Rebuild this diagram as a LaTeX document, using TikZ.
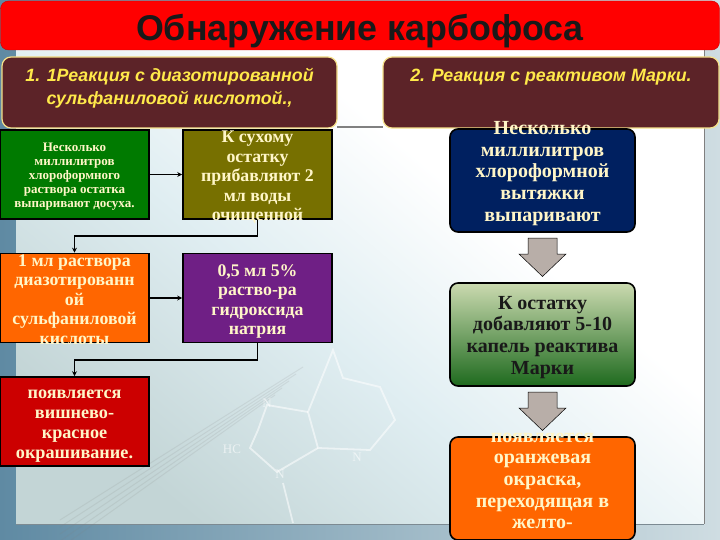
\documentclass[tikz,border=0pt]{standalone}
\usepackage{fontspec}
\setmainfont{Liberation Serif}
\newfontfamily\headfont{Liberation Sans}
\usetikzlibrary{arrows.meta}
\definecolor{framecolleft}{HTML}{5F8AA3}
\definecolor{framecolright}{HTML}{CFDDE2}
\definecolor{panelcol}{HTML}{C3D5D6}
\definecolor{panelmidcol}{HTML}{E0EEF2}
\definecolor{titlecol}{HTML}{FF0000}
\definecolor{headcol}{HTML}{5C2328}
\definecolor{headedgecol}{HTML}{F5E08A}
\definecolor{headtextcol}{HTML}{FFE94A}
\definecolor{creamcol}{HTML}{FFF6C8}
\definecolor{boxgreencol}{HTML}{007A00}
\definecolor{boxolivecol}{HTML}{777000}
\definecolor{boxorangecol}{HTML}{FF6600}
\definecolor{boxpurplecol}{HTML}{6F1F85}
\definecolor{boxredcol}{HTML}{CC0000}
\definecolor{boxnavycol}{HTML}{002060}
\definecolor{gradtopcol}{HTML}{CBDAB0}
\definecolor{gradbotcol}{HTML}{1E6A1E}
\definecolor{blockcol}{HTML}{B8AEA8}
\pgfdeclareverticalshading{panelshade}{100bp}{color(0bp)=(panelcol); color(25bp)=(panelcol); color(45bp)=(panelmidcol); color(62bp)=(white); color(100bp)=(white)}
\newcommand{\carbtext}[3]{\raisebox{#1}[0pt][0pt]{\parbox[c][0pt][c]{#2}{\centering #3}}}
\tikzset{
        titlebox/.style={draw=red!80!black, fill=titlecol, rounded corners=8pt, minimum width=719pt, minimum height=49pt, inner sep=0pt},
        headbox/.style={draw=headedgecol, line width=1.2pt, fill=headcol, rounded corners=9pt, minimum height=71pt, inner sep=0pt, text=headtextcol, font=\headfont\fontsize{17.8}{23}\selectfont\bfseries\itshape},
        squarebox/.style={draw=black, line width=1.6pt, minimum width=149pt, minimum height=89pt, inner sep=0pt, text=creamcol, font=\fontsize{17.8}{19.5}\selectfont\bfseries},
        roundbox/.style={draw=black, line width=1.6pt, rounded corners=8pt, minimum width=185pt, minimum height=103pt, inner sep=0pt, text=creamcol, font=\fontsize{20}{21.7}\selectfont\bfseries},
        blockdown/.style={draw=black, line width=0.5pt, fill=blockcol},
        linkarrow/.style={draw=black, line width=1.4pt, -{Stealth[length=5pt,width=5pt]}},
        waterline/.style={draw=white, opacity=0.55, line width=1.8pt},
        waterstripe/.style={draw=gray, opacity=0.14, line width=1pt},
        waterlabel/.style={text=white, opacity=0.6, font=\fontsize{13}{13}\selectfont},
}
\begin{document}
\begin{tikzpicture}[x=1pt,y=-1pt]
        \useasboundingbox (0,0) rectangle (720,540);
        \shade[left color=framecolleft, right color=framecolright] (0,0) rectangle (720,540);
        \shade[shading=panelshade, shading angle=-40] (16,50) rectangle (704,524);
        \draw[black!45!cyan!30!gray, line width=1.5pt] (16,524.5) -- (704,524.5);
        \draw[gray, line width=1.5pt] (337,127) -- (383,127);
        \draw[black!50, line width=0.7pt] (704,50) -- (704,524);
        \foreach \stripey in {0,7,14,21,28}
                \draw[waterstripe] (303-\stripey,367+\stripey) -- (60,520+\stripey);
        \draw[waterline] (333,350) -- (343,378) -- (380,387) -- (395,420) -- (370,450) -- (318,448) -- (308,412) -- cycle;
        \draw[waterline] (308,412) -- (267,405) -- (258,430) -- (250,448) -- (277,472) -- (318,448);
        \draw[waterline] (283,483) -- (293,523);
        \node[waterlabel] (waterna) at (267,403) {N};
        \node[waterlabel] (waternb) at (280,474) {N};
        \node[waterlabel] (waternc) at (357,457) {N};
        \node[waterlabel] (waterhc) at (232,449) {HC};
        \node[titlebox] (titlebar) at (360,25.5) {};
        \node[font=\headfont\fontsize{35.8}{38}\selectfont\bfseries, text=black!90] (titletext) at (360,31) {Обнаружение карбофоса};
        \node[headbox, minimum width=335pt] (heada) at (169.5,92.5) {\carbtext{-0.5pt}{335pt}{1. 1Реакция с диазотированной\\сульфаниловой кислотой.,}};
        \node[headbox, minimum width=336pt] (headb) at (551,92.5) {\carbtext{11pt}{336pt}{2. Реакция с реактивом Марки.}};
        \node[squarebox, fill=boxgreencol, font=\fontsize{13}{14}\selectfont\bfseries] (boxgreen) at (74.5,174.5) {\carbtext{-5.5pt}{149pt}{Несколько\\миллилитров\\хлороформного\\раствора остатка\\выпаривают досуха.}};
        \node[squarebox, fill=boxolivecol] (boxolive) at (257.5,174.5) {\carbtext{-7.5pt}{149pt}{К сухому\\остатку\\прибавляют 2\\мл воды\\очищенной}};
        \node[squarebox, fill=boxorangecol] (boxorange) at (74.5,298) {\carbtext{-6pt}{149pt}{1 мл раствора\\диазотированн\\ой\\сульфаниловой\\кислоты}};
        \node[squarebox, fill=boxpurplecol] (boxpurple) at (257.5,298) {\carbtext{-8pt}{149pt}{0,5 мл 5\%\\раство-ра\\гидроксида\\натрия}};
        \node[squarebox, fill=boxredcol, font=\fontsize{18.2}{19.7}\selectfont\bfseries] (boxred) at (74.5,421.5) {\carbtext{-9pt}{149pt}{появляется\\вишнево-\\красное\\окрашивание.}};
        \node[roundbox, fill=boxnavycol] (boxnavy) at (542.5,180.5) {\carbtext{2pt}{185pt}{Несколько\\миллилитров\\хлороформной\\вытяжки\\выпаривают}};
        \node[roundbox, top color=gradtopcol, bottom color=gradbotcol, text=black!90] (boxgrad) at (542.5,334.5) {\carbtext{-8pt}{185pt}{К остатку\\добавляют 5-10\\капель реактива\\Марки}};
        \node[roundbox, fill=boxorangecol] (boxlast) at (542.5,488.5) {\carbtext{2.5pt}{185pt}{появляется\\оранжевая\\окраска,\\переходящая в\\желто-}};
        \foreach \blocky in {238,392}
                \draw[blockdown, shift={(542.5,\blocky)}] (-14.5,0) -- (14.5,0) -- (14.5,16) -- (23.5,16) -- (0,38.5) -- (-23.5,16) -- (-14.5,16) -- cycle;
        \draw[linkarrow] (boxgreen.east) -- (boxolive.west);
        \draw[linkarrow] (boxorange.east) -- (boxpurple.west);
        \coordinate (linkturna) at (74.5,236);
        \coordinate (linkturnb) at (74.5,360);
        \draw[linkarrow] (boxolive.south) |- (linkturna) -- (boxorange.north);
        \draw[linkarrow] (boxpurple.south) |- (linkturnb) -- (boxred.north);
\end{tikzpicture}
\end{document}
